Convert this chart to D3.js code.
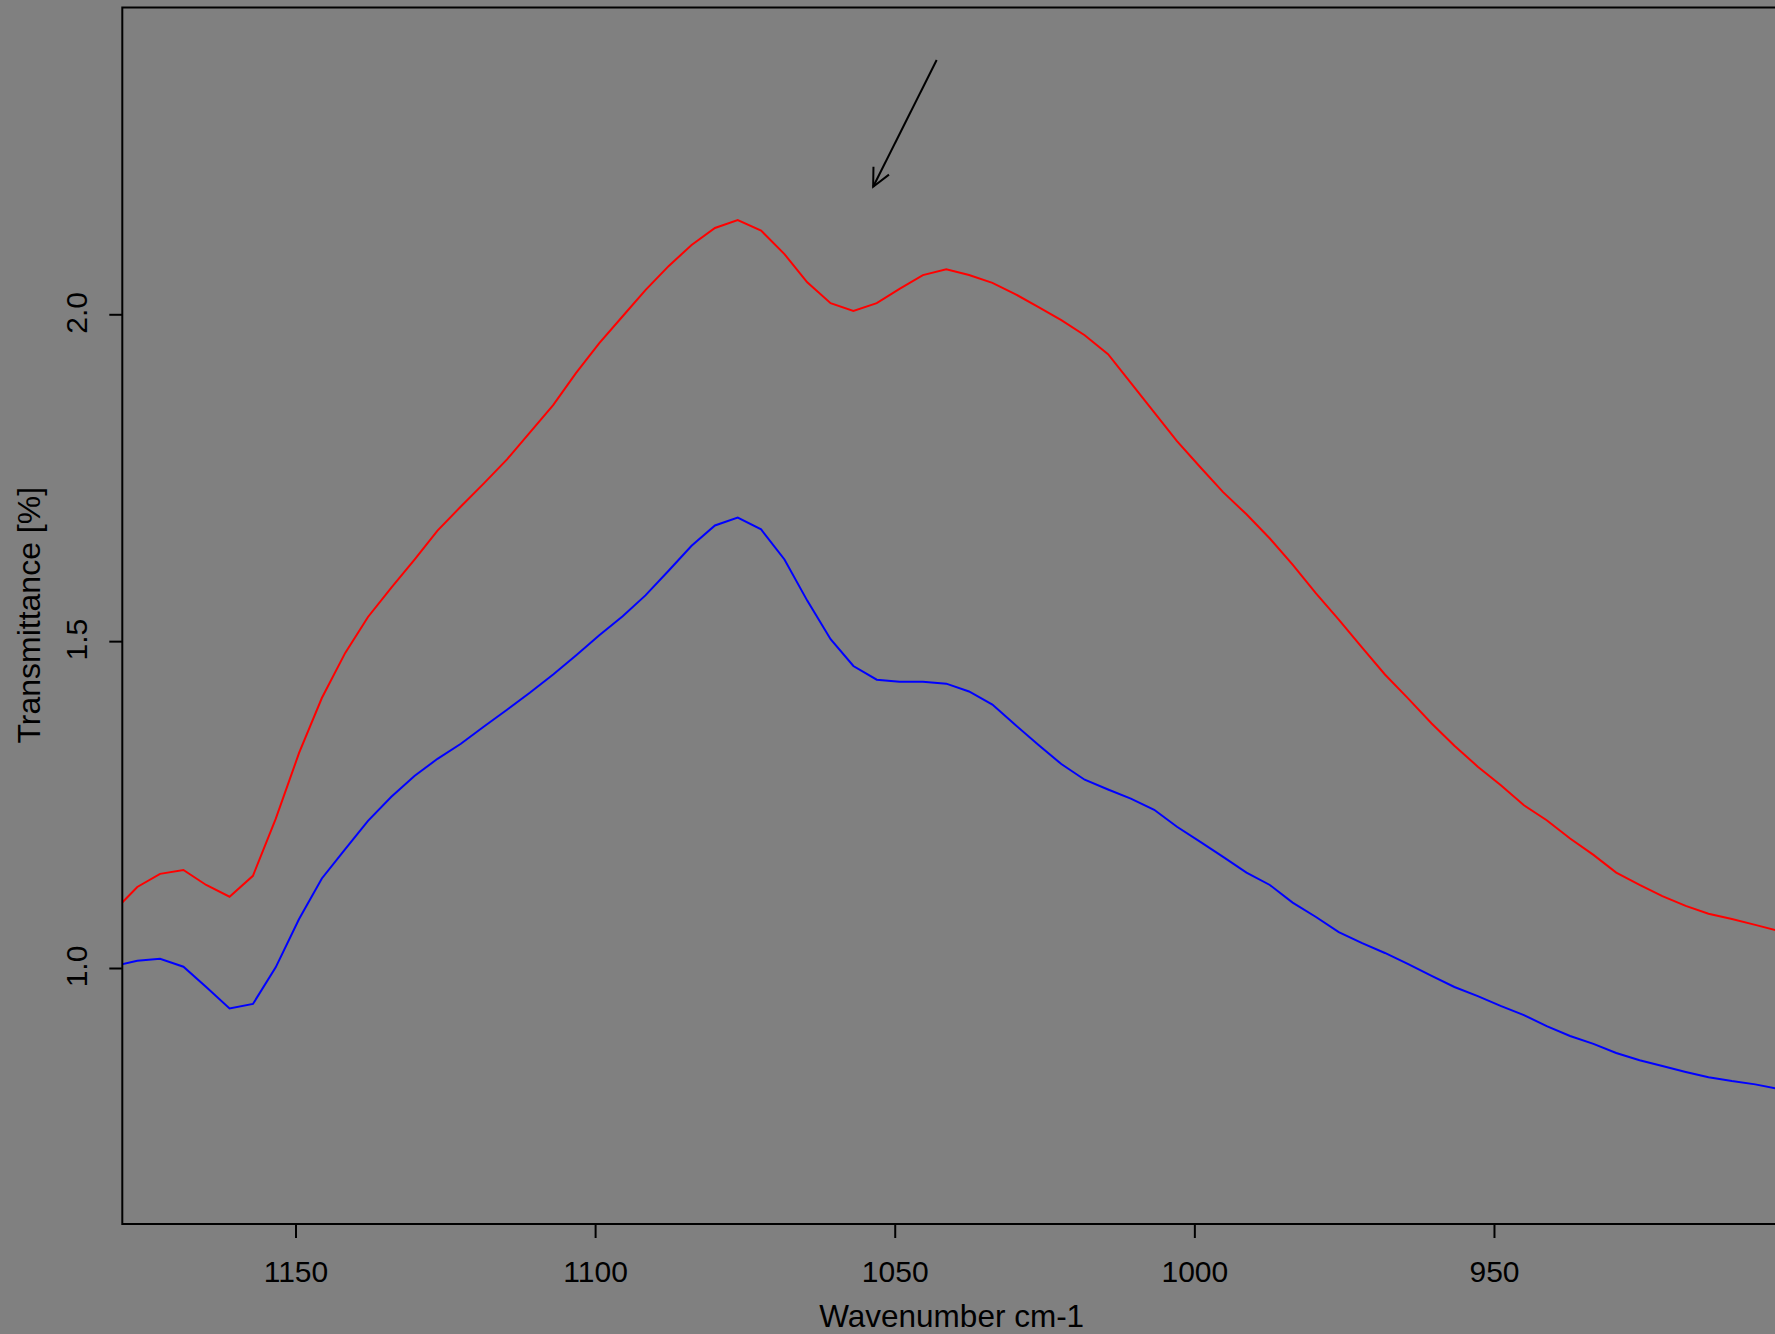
<!DOCTYPE html>
<html>
<head>
<meta charset="utf-8">
<script src="https://cdn.jsdelivr.net/npm/d3@7"></script>
<style>
  html, body { margin: 0; padding: 0; background: #808080; }
  svg { display: block; }
  text { font-family: "Liberation Sans", Arial, sans-serif; fill: #000; }
</style>
</head>
<body>
<svg id="chart" width="1775" height="1334"></svg>
<script>
// ---- data ----
const wavenumbers = [
  1180.3, 1176.4, 1172.6, 1168.7, 1164.9, 1161.0, 1157.1, 1153.3, 1149.4, 1145.6, 1141.7, 1137.9, 1134.0, 1130.1, 1126.3, 1122.4,
  1118.6, 1114.7, 1110.9, 1107.0, 1103.2, 1099.3, 1095.4, 1091.6, 1087.7, 1083.9, 1080.0, 1076.2, 1072.3, 1068.4, 1064.6, 1060.7,
  1056.9, 1053.0, 1049.2, 1045.3, 1041.4, 1037.6, 1033.7, 1029.9, 1026.0,
  1022.2, 1018.3, 1014.4, 1010.6, 1006.7, 1002.9, 999.0, 995.2, 991.3, 987.4, 983.6, 979.7, 975.9, 972.0, 968.2, 964.3,
  960.4, 956.6, 952.7, 948.9, 945.0, 941.2,
  937.3, 933.4, 929.6, 925.7, 921.9, 918.0, 914.2, 910.3, 906.4, 902.6
];
const redSeries = [
  1.087, 1.124, 1.144, 1.150, 1.127, 1.109, 1.141, 1.228, 1.329, 1.413, 1.482, 1.537, 1.582, 1.625, 1.669, 1.706,
  1.741, 1.778, 1.819, 1.861, 1.910, 1.956, 1.997, 2.037, 2.074, 2.106, 2.132, 2.144, 2.128, 2.092, 2.049, 2.017,
  2.005, 2.017, 2.039, 2.060, 2.069, 2.060, 2.048, 2.031, 2.011,
  1.991, 1.968, 1.939, 1.895, 1.850, 1.806, 1.766, 1.728, 1.694, 1.657, 1.617, 1.573, 1.533, 1.490, 1.449, 1.412,
  1.374, 1.340, 1.308, 1.280, 1.249, 1.226,
  1.198, 1.173, 1.146, 1.127, 1.110, 1.095, 1.083, 1.075, 1.066, 1.057
];
const blueSeries = [
  1.003, 1.011, 1.014, 1.002, 0.971, 0.938, 0.945, 1.001, 1.075, 1.137, 1.182, 1.225, 1.262, 1.294, 1.320, 1.343,
  1.369, 1.395, 1.421, 1.449, 1.478, 1.509, 1.538, 1.570, 1.608, 1.646, 1.677, 1.689, 1.671, 1.625, 1.562, 1.503,
  1.462, 1.441, 1.438, 1.438, 1.435, 1.423, 1.403, 1.372, 1.341,
  1.312, 1.288, 1.273, 1.259, 1.242, 1.216, 1.193, 1.170, 1.146, 1.127, 1.100, 1.078, 1.055, 1.038, 1.023, 1.006,
  0.988, 0.971, 0.957, 0.942, 0.928, 0.911,
  0.896, 0.884, 0.870, 0.859, 0.850, 0.841, 0.833, 0.827, 0.822, 0.815
];
const xTicks = [1150, 1100, 1050, 1000, 950];
const yTicks = [1.0, 1.5, 2.0];
const xDomain = [1178.9, 900];
const yDomain = [0.6084, 2.4693];
const arrowFrom = [1043.0, 2.389];   // tail (wavenumber, value)
const arrowTo = [1053.6, 2.195];     // tip
const xTitle = "Wavenumber cm-1";
const yTitle = "Transmittance [%]";

// ---- layout ----
const plot = { left: 122.3, top: 7.5, right: 1793.6, bottom: 1224 };
const svg = d3.select("#chart");

const x = d3.scaleLinear().domain(xDomain).range([plot.left, plot.right]);
const y = d3.scaleLinear().domain(yDomain).range([plot.bottom, plot.top]);

svg.append("rect").attr("x", 0).attr("y", 0).attr("width", 1775).attr("height", 1334).attr("fill", "#808080");

svg.append("defs").append("clipPath").attr("id", "clip")
  .append("rect")
  .attr("x", plot.left).attr("y", plot.top)
  .attr("width", plot.right - plot.left).attr("height", plot.bottom - plot.top);

// series
const line = d3.line().x(d => x(d[0])).y(d => y(d[1]));
const series = [
  { values: redSeries, color: "#ff0000" },
  { values: blueSeries, color: "#0000ff" }
];
svg.append("g").attr("clip-path", "url(#clip)")
  .selectAll("path")
  .data(series)
  .join("path")
  .attr("d", s => line(wavenumbers.map((w, i) => [w, s.values[i]])))
  .attr("fill", "none")
  .attr("stroke", s => s.color)
  .attr("stroke-width", 2)
  .attr("stroke-linejoin", "miter");

// frame
svg.append("rect")
  .attr("x", plot.left).attr("y", plot.top)
  .attr("width", plot.right - plot.left).attr("height", plot.bottom - plot.top)
  .attr("fill", "none").attr("stroke", "#000").attr("stroke-width", 2);

// x axis
const xAxis = svg.append("g")
  .attr("transform", `translate(0,${plot.bottom})`)
  .call(d3.axisBottom(x).tickValues(xTicks).tickFormat(d3.format("d")).tickSize(14).tickPadding(22.7).tickSizeOuter(0));
xAxis.select(".domain").remove();
xAxis.selectAll(".tick line").attr("stroke", "#000").attr("stroke-width", 2);
xAxis.selectAll(".tick text")
  .style("font-family", '"Liberation Sans", Arial, sans-serif')
  .style("font-size", "30px").attr("fill", "#000");

// y axis
const yAxis = svg.append("g")
  .attr("transform", `translate(${plot.left},0)`)
  .call(d3.axisLeft(y).tickValues(yTicks).tickFormat(d3.format(".1f")).tickSize(13).tickSizeOuter(0));
yAxis.select(".domain").remove();
yAxis.selectAll(".tick line").attr("stroke", "#000").attr("stroke-width", 2);
yAxis.selectAll(".tick text")
  .attr("x", null).attr("dy", null)
  .attr("transform", `translate(-35,-2) rotate(-90)`)
  .attr("text-anchor", "middle")
  .style("font-family", '"Liberation Sans", Arial, sans-serif')
  .style("font-size", "30px").attr("fill", "#000");

// axis titles
svg.append("text")
  .attr("x", 951.7).attr("y", 1327)
  .attr("text-anchor", "middle")
  .style("font-size", "31.5px")
  .text(xTitle);

svg.append("text")
  .attr("transform", `translate(40,${(y(yDomain[0]) + y(yDomain[1])) / 2 - 0.5}) rotate(-90)`)
  .attr("text-anchor", "middle")
  .style("font-size", "32px")
  .text(yTitle);

// annotation arrow
const tx = x(arrowTo[0]), ty = y(arrowTo[1]);
const fx = x(arrowFrom[0]), fy = y(arrowFrom[1]);
const ag = svg.append("g").attr("stroke", "#000").attr("stroke-width", 2).attr("fill", "none");
ag.append("line").attr("x1", fx).attr("y1", fy).attr("x2", tx).attr("y2", ty);
const ang = Math.atan2(fy - ty, fx - tx);
const headLen = 20, spread = Math.PI / 7;
ag.append("path")
  .attr("d", d3.line()([
    [tx + headLen * Math.cos(ang - spread), ty + headLen * Math.sin(ang - spread)],
    [tx, ty],
    [tx + headLen * Math.cos(ang + spread), ty + headLen * Math.sin(ang + spread)]
  ]));
</script>
</body>
</html>
